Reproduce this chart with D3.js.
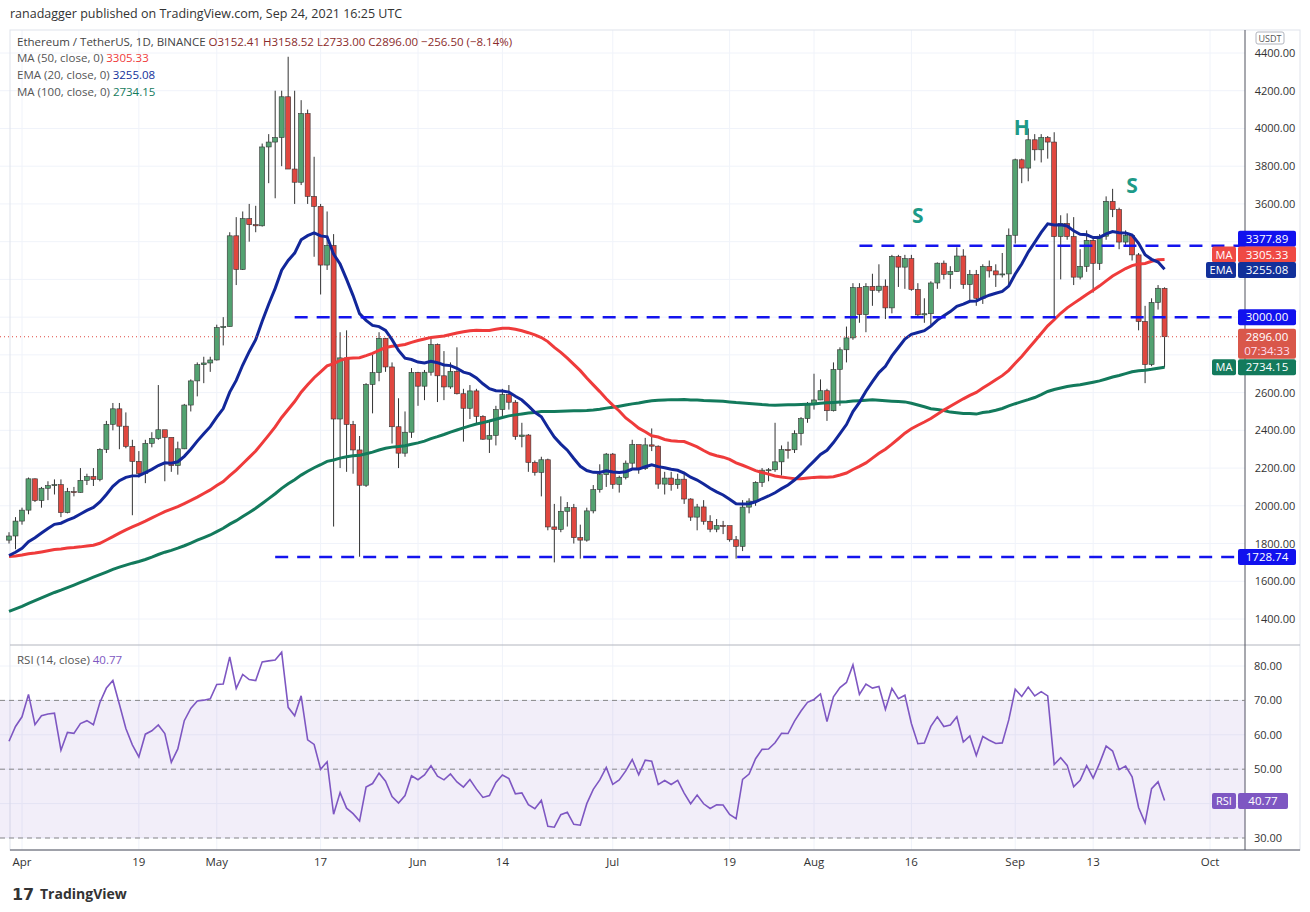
<!DOCTYPE html>
<html><head><meta charset="utf-8">
<script src="https://cdn.jsdelivr.net/npm/d3@7"></script>
<style>body{margin:0;background:#fff;font-family:"Open Sans",Roboto,sans-serif}</style>
</head><body><div id="chart"></div>
<script>
// closes before the visible window (Dec 20 2020 - Mar 29 2021), used for the indicators
const historyCloses = [638,609,634,587,612,626,635,683,730,731,751,737,
  730,775,979,1042,1100,1208,1225,1224,1281,1262,1090,1043,1130,1218,1171,1233,1230,1257,1377,1382,1121,1236,1231,1391,1324,1362,1253,1332,1382,1377,1314,
  1369,1515,1660,1594,1719,1677,1614,1750,1769,1744,1784,1843,1814,1804,1779,1781,1848,1937,1960,1919,1935,1781,1570,1626,1475,1446,1459,1416,
  1564,1492,1575,1541,1533,1654,1723,1834,1868,1799,1826,1772,1924,1855,1791,1806,1823,1782,1810,1806,1782,1681,1669,1593,1595,1702,1716,1692,1818];

// visible candles, Mar 30 - Sep 24 2021
const firstDay = Date.UTC(2021, 2, 30);
const closes = [1840,1919,
  1977,2143,2028,2093,2107,2112,1964,2075,2071,2135,2155,2140,2299,2432,2514,2422,2315,2235,2171,2331,2357,2403,2363,2213,2302,2534,2662,2748,2757,2773,
  2945,2950,3431,3253,3522,3490,3484,3902,3928,3952,4168,3785,3715,4079,3640,3587,3276,3380,2460,2784,2431,2296,2109,2643,2706,2888,2736,2419,2279,2390,2707,
  2634,2708,2855,2689,2630,2712,2594,2517,2609,2474,2353,2373,2510,2590,2549,2367,2375,2230,2177,2244,1888,1875,1971,1990,1831,1818,1973,2086,2165,2274,
  2114,2151,2226,2325,2197,2323,2316,2115,2147,2112,2141,2036,1940,1994,1918,1876,1896,1895,1820,1785,1993,2025,2124,2189,2191,2233,2298,2297,2383,2462,2536,
  2561,2610,2504,2723,2827,2890,3157,3013,3163,3142,3164,3049,3322,3265,3310,3147,3012,3018,3181,3286,3226,3242,3324,3173,3227,3100,3269,3245,3224,3229,3434,
  3834,3790,3940,3887,3952,3928,3427,3497,3427,3212,3269,3407,3285,3429,3614,3570,3398,3433,3330,2977,2749,3078,3153,2896];
const highs = [1860,1940,
  1990,2150,2145,2100,2130,2140,2140,2095,2100,2200,2170,2200,2305,2450,2545,2545,2495,2350,2290,2350,2390,2640,2400,2360,2340,2540,2670,2760,2790,2790,
  2960,3000,3450,3530,3560,3600,3590,3920,3970,4200,4200,4380,4200,4150,4100,3850,3600,3560,3440,2920,2930,2450,2370,2650,2800,2920,2890,2760,2570,2500,2730,
  2710,2720,2890,2860,2820,2760,2840,2620,2640,2620,2480,2450,2530,2620,2640,2560,2440,2380,2240,2260,2250,2010,2050,2020,2010,1900,1990,2110,2220,2280,
  2280,2160,2240,2350,2320,2360,2410,2320,2180,2180,2170,2180,2040,2010,2030,1950,1930,1920,1890,1840,2030,2040,2130,2200,2200,2440,2320,2340,2400,2470,2550,
  2700,2670,2620,2760,2840,2950,3180,3180,3180,3230,3280,3200,3330,3330,3330,3330,3180,3100,3190,3290,3300,3270,3370,3360,3250,3250,3280,3300,3280,3340,3470,
  3840,3840,4000,3970,3970,3960,3980,3540,3550,3530,3360,3460,3420,3440,3640,3680,3580,3460,3440,3340,3060,3100,3170,3158];
const lows = [1800,1770,
  1900,1955,2020,1990,2030,2060,1940,1960,2050,2070,2110,2105,2130,2280,2400,2300,2305,1950,2150,2120,2310,2350,2130,2180,2165,2300,2500,2580,2650,2710,
  2770,2850,2950,3170,3250,3400,3450,3480,3710,3630,3800,3790,3600,3700,3600,3320,3120,3250,1890,2200,2180,2170,1730,2100,2490,2660,2710,2330,2200,2260,2360,
  2530,2560,2690,2550,2560,2620,2590,2340,2460,2430,2350,2280,2320,2470,2510,2350,2310,2180,2160,2050,1870,1700,1860,1890,1800,1720,1810,1960,2070,2100,
  2090,2070,2140,2200,2170,2190,2290,2090,2060,2080,2090,2010,1920,1870,1900,1860,1860,1850,1810,1720,1760,1960,2000,2100,2130,2180,2160,2250,2280,2320,2440,
  2510,2560,2450,2500,2530,2760,2880,2970,2920,3060,3130,2990,3020,3160,3150,3140,3000,2970,2960,3150,3200,3150,3240,3150,3080,3060,3070,3210,3160,3210,3160,
  3390,3710,3720,3830,3820,3840,3000,3200,3410,3170,3200,3240,3130,3250,3410,3530,3360,3380,3300,2930,2650,2740,3040,2733];
const opens = closes.map((c, i) => i === 0 ? 1818 : closes[i - 1]);
opens[opens.length - 1] = 3152.41;

const levels = [{v: 3377.89, x0: "2021-08-08"}, {v: 3000, x0: "2021-05-13"}, {v: 1728.74, x0: "2021-05-10"}];
const priceTicks = d3.range(1400, 4401, 200);
const rsiTicks = [30, 40, 50, 60, 70, 80];
const rsiLast = 40.77;
const dateTicks = [["2021-04-01","Apr"],["2021-04-19","19"],["2021-05-01","May"],["2021-05-17","17"],["2021-06-01","Jun"],["2021-06-14","14"],
  ["2021-07-01","Jul"],["2021-07-19","19"],["2021-08-01","Aug"],["2021-08-16","16"],["2021-09-01","Sep"],["2021-09-13","13"],["2021-10-01","Oct"]];
const patternLabels = [["2021-08-17", 3499, "S"], ["2021-09-02", 3965, "H"], ["2021-09-19", 3658, "S"]];

// indicators
const all = historyCloses.concat(closes);
const off = historyCloses.length;
const sma = n => all.map((c, i) => i < n - 1 ? null : d3.mean(all.slice(i - n + 1, i + 1)));
const ma50 = sma(50), ma100 = sma(100);
const ema20 = []; const k = 2 / 21;
all.forEach((c, i) => ema20.push(i === 0 ? c : c * k + ema20[i - 1] * (1 - k)));
const rsi = []; let ag = 0, al = 0;
all.forEach((c, i) => {
  if (i === 0) { rsi.push(null); return; }
  const d = c - all[i - 1], g = Math.max(d, 0), l = Math.max(-d, 0);
  if (i <= 14) { ag += g / 14; al += l / 14; } else { ag = (ag * 13 + g) / 14; al = (al * 13 + l) / 14; }
  rsi.push(i < 14 ? null : 100 - 100 / (1 + ag / al));
});

const W = 1310, H = 912, plotR = 1245;
const svg = d3.select("#chart").append("svg").attr("width", W).attr("height", H);
const x = d3.scaleUtc().domain([Date.UTC(2021,3,1), Date.UTC(2021,9,1)]).range([22, 1210]);
const y = d3.scaleLinear().domain([1400, 4400]).range([619, 53]);
const yr = d3.scaleLinear().domain([30, 80]).range([838, 666]);
const dayX = i => x(new Date(firstDay + i * 864e5));
const idx = d3.range(closes.length);

svg.append("defs").append("clipPath").attr("id", "clip").append("rect").attr("x", 0).attr("y", 30).attr("width", plotR).attr("height", 820);

// grid
const grid = svg.append("g").attr("stroke", "#f0f3fa");
priceTicks.forEach(t => grid.append("line").attr("x1", 0).attr("x2", plotR).attr("y1", y(t)).attr("y2", y(t)));
dateTicks.forEach(t => grid.append("line").attr("x1", x(new Date(t[0]))).attr("x2", x(new Date(t[0]))).attr("y1", 30).attr("y2", 850));
rsiTicks.forEach(t => grid.append("line").attr("x1", 0).attr("x2", plotR).attr("y1", yr(t)).attr("y2", yr(t)));

// frames
svg.append("rect").attr("x", 10).attr("y", 30).attr("width", 1290).attr("height", 820).attr("fill", "none").attr("stroke", "#e0e3eb");
svg.append("line").attr("x1", 10).attr("x2", 1300).attr("y1", 645).attr("y2", 645).attr("stroke", "#b2b5be");
svg.append("line").attr("x1", plotR).attr("x2", plotR).attr("y1", 30).attr("y2", 850).attr("stroke", "#50535e");
svg.append("line").attr("x1", 10).attr("x2", 1300).attr("y1", 850).attr("y2", 850).attr("stroke", "#50535e");

const g = svg.append("g").attr("clip-path", "url(#clip)");

// candles
const up = "#53a271", dn = "#e0473f";
const cg = g.selectAll(".c").data(idx).enter().append("g");
cg.append("line").attr("x1", dayX).attr("x2", dayX).attr("y1", i => y(highs[i])).attr("y2", i => y(lows[i]))
  .attr("stroke", "#333").attr("stroke-width", 1);
cg.append("rect").attr("x", i => dayX(i) - 2.5).attr("width", 5)
  .attr("y", i => y(Math.max(opens[i], closes[i]))).attr("height", i => Math.max(1, Math.abs(y(opens[i]) - y(closes[i]))))
  .attr("fill", i => closes[i] >= opens[i] ? up : dn).attr("stroke", "#333").attr("stroke-width", 0.6);

// moving averages
const line = arr => d3.line().defined(i => arr[i + off] != null).x(dayX).y(i => y(arr[i + off]))(idx);
g.append("path").attr("d", line(ma100)).attr("fill", "none").attr("stroke", "#137a5c").attr("stroke-width", 3);
g.append("path").attr("d", line(ma50)).attr("fill", "none").attr("stroke", "#ef3b3b").attr("stroke-width", 3);
g.append("path").attr("d", line(ema20)).attr("fill", "none").attr("stroke", "#12279a").attr("stroke-width", 3);

// current price dotted line
g.append("line").attr("x1", 0).attr("x2", plotR).attr("y1", y(2896)).attr("y2", y(2896))
  .attr("stroke", "#e0473f").attr("stroke-dasharray", "1,3");

// levels
levels.forEach(l => g.append("line").attr("x1", x(new Date(l.x0))).attr("x2", plotR).attr("y1", y(l.v)).attr("y2", y(l.v))
  .attr("stroke", "#1414ee").attr("stroke-width", 2.5).attr("stroke-dasharray", "13,9"));

// pattern letters
patternLabels.forEach(p => svg.append("text").attr("x", x(new Date(p[0]))).attr("y", y(p[1])).attr("text-anchor", "middle")
  .attr("font-size", 21).attr("font-weight", "bold").attr("fill", "#1d9a88").text(p[2]));

// price axis, ticks hidden under the value tags
const tagVals = [3377.89, 3305.33, 3255.08, 3000, 2896, 2734.15, 1728.74];
priceTicks.filter(t => !tagVals.some(v => Math.abs(y(v) - y(t)) < 12 || (v === 2896 && y(t) > y(v) && y(t) - y(v) < 28)))
  .forEach(t => svg.append("text").attr("x", 1275).attr("y", y(t) + 4).attr("text-anchor", "middle")
  .attr("font-size", 11).attr("fill", "#333").text(t.toFixed(2)));
rsiTicks.filter(t => Math.abs(yr(t) - yr(rsiLast)) > 12).forEach(t => svg.append("text").attr("x", 1268).attr("y", yr(t) + 4).attr("text-anchor", "middle")
  .attr("font-size", 11).attr("fill", "#333").text(t.toFixed(2)));

// right labels (nudge = pixel shift so stacked tags don't collide)
function tag(v, fill, txt, sub, nudge = 0) {
  const yy = y(v) + nudge, h = sub ? 30 : 16;
  svg.append("rect").attr("x", 1238).attr("y", yy - 8).attr("width", 58).attr("height", h).attr("rx", 2).attr("fill", fill);
  svg.append("text").attr("x", 1267).attr("y", yy + 4).attr("text-anchor", "middle").attr("font-size", 11.5).attr("fill", "#fff").text(txt);
  if (sub) svg.append("text").attr("x", 1267).attr("y", yy + 18).attr("text-anchor", "middle").attr("font-size", 11.5).attr("fill", "#fde").text(sub);
  return yy;
}
function ptag(yy, fill, txt, w = 24) {
  svg.append("rect").attr("x", 1236 - w).attr("y", yy - 8).attr("width", w).attr("height", 16).attr("rx", 2).attr("fill", fill);
  svg.append("text").attr("x", 1236 - w / 2).attr("y", yy + 4).attr("text-anchor", "middle").attr("font-size", 11).attr("fill", "#fff").text(txt);
}
tag(3377.89, "#1111ee", "3377.89", null, -7);
ptag(tag(3305.33, "#ef4a44", "3305.33", null, -5), "#ef4a44", "MA");
ptag(tag(3255.08, "#12309a", "3255.08", null, 1), "#12309a", "EMA", 30);
tag(3000, "#1111ee", "3000.00");
tag(2896, "#d9574a", "2896.00", "07:34:33");
ptag(tag(2734.15, "#137a5c", "2734.15"), "#137a5c", "MA");
tag(1728.74, "#1111ee", "1728.74");
svg.append("rect").attr("x", 1256).attr("y", 32).attr("width", 28).attr("height", 12).attr("rx", 2).attr("fill", "#fff").attr("stroke", "#b2b5be");
svg.append("text").attr("x", 1270).attr("y", 41.5).attr("text-anchor", "middle").attr("font-size", 9).attr("fill", "#555").text("USDT");

// RSI panel
const rsiG = svg.append("g").attr("clip-path", "url(#clip)");
rsiG.append("rect").attr("x", 0).attr("width", plotR).attr("y", yr(70)).attr("height", yr(30) - yr(70)).attr("fill", "#7e57c2").attr("opacity", 0.1);
[70, 50, 30].forEach(t => rsiG.append("line").attr("x1", 0).attr("x2", plotR).attr("y1", yr(t)).attr("y2", yr(t))
  .attr("stroke", "#888").attr("stroke-dasharray", "5,4"));
rsiG.append("path").attr("d", d3.line().x(dayX).y(i => yr(rsi[i + off]))(idx)).attr("fill", "none").attr("stroke", "#7e57c2").attr("stroke-width", 1.6);
svg.append("rect").attr("x", 1212).attr("y", yr(rsiLast) - 8).attr("width", 24).attr("height", 16).attr("rx", 2).attr("fill", "#7e57c2");
svg.append("text").attr("x", 1224).attr("y", yr(rsiLast) + 4).attr("text-anchor", "middle").attr("font-size", 11).attr("fill", "#fff").text("RSI");
svg.append("rect").attr("x", 1238).attr("y", yr(rsiLast) - 8).attr("width", 50).attr("height", 16).attr("rx", 2).attr("fill", "#7e57c2");
svg.append("text").attr("x", 1263).attr("y", yr(rsiLast) + 4).attr("text-anchor", "middle").attr("font-size", 11.5).attr("fill", "#fff").text(rsiLast.toFixed(2));

// date axis
dateTicks.forEach(t => svg.append("text").attr("x", x(new Date(t[0]))).attr("y", 866).attr("text-anchor", "middle")
  .attr("font-size", 11.5).attr("fill", "#333").text(t[1]));

// legends
svg.append("text").attr("x", 10).attr("y", 18).attr("font-size", 12.5).attr("fill", "#333").text("ranadagger published on TradingView.com, Sep 24, 2021 16:25 UTC");
const leg = (yy, parts) => { const t = svg.append("text").attr("x", 17).attr("y", yy).attr("font-size", 11.5);
  parts.forEach(p => t.append("tspan").attr("fill", p[1]).text(p[0])); };
leg(46, [["Ethereum / TetherUS, 1D, BINANCE  ", "#444"], ["O3152.41  H3158.52  L2733.00  C2896.00  −256.50 (−8.14%)", "#8b2b2b"]]);
leg(62, [["MA (50, close, 0)  ", "#555"], ["3305.33", "#ef3b3b"]]);
leg(79, [["EMA (20, close, 0)  ", "#555"], ["3255.08", "#12309a"]]);
leg(96, [["MA (100, close, 0)  ", "#555"], ["2734.15", "#137a5c"]]);
leg(664, [["RSI (14, close)  ", "#555"], [rsiLast.toFixed(2), "#7e57c2"]]);

// footer
svg.append("text").attr("x", 40).attr("y", 899).attr("font-size", 14).attr("font-weight", "bold").attr("fill", "#333").text("TradingView");
svg.append("text").attr("x", 12).attr("y", 900).attr("font-size", 16).attr("font-weight", "bold").attr("fill", "#333").text("𝟭𝟳");
</script></body></html>
